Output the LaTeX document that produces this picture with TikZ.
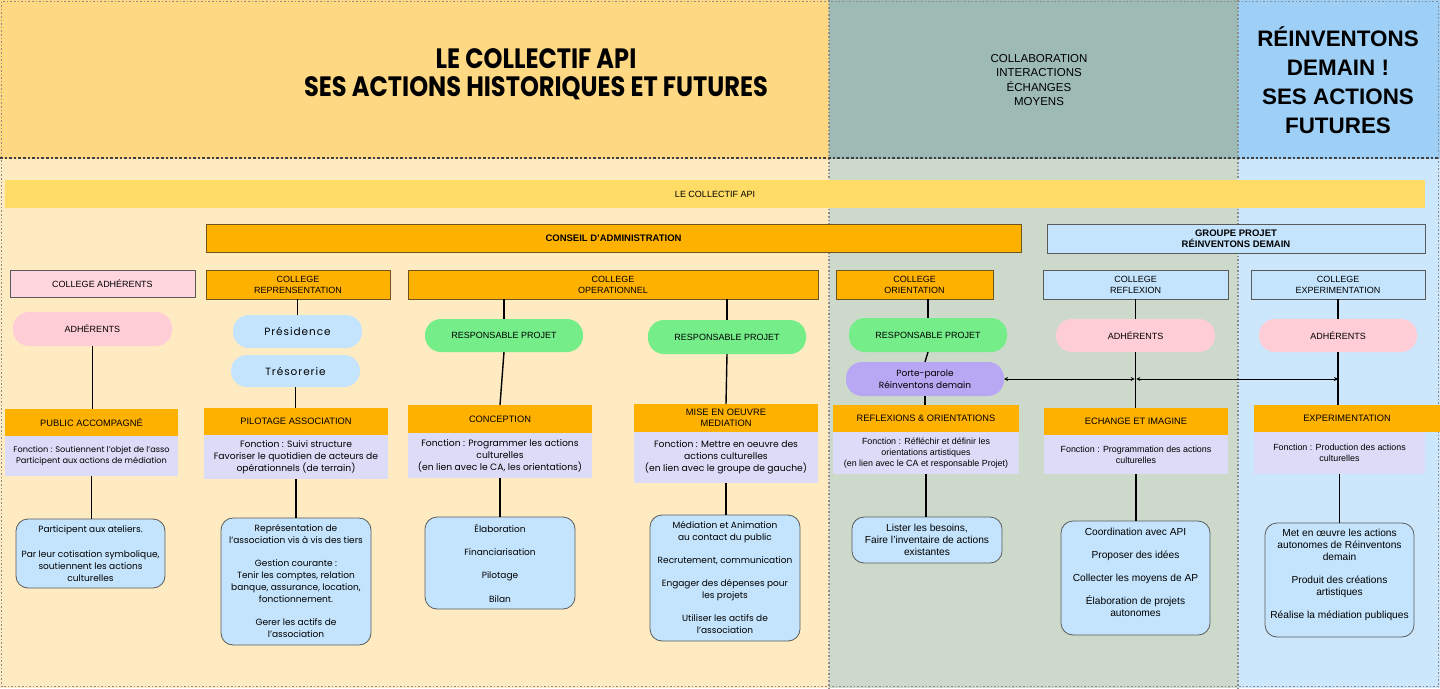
\documentclass[tikz,border=0pt]{standalone}
\usepackage{fontspec}
\setmainfont{Liberation Sans}
\newfontfamily\pop{Poppins}
\newfontfamily\popls[LetterSpace=9]{Poppins}
\newfontfamily\ttl[FakeStretch=0.86]{Poppins}
\usetikzlibrary{arrows.meta}
\definecolor{hdrL}{HTML}{FED883}
\definecolor{hdrM}{HTML}{9EBAB5}
\definecolor{hdrR}{HTML}{9DCFF7}
\definecolor{bodL}{HTML}{FFEBC1}
\definecolor{bodM}{HTML}{CCD9CB}
\definecolor{bodR}{HTML}{CCE7FB}
\definecolor{bandY}{HTML}{FFDC66}
\definecolor{orng}{HTML}{FFB100}
\definecolor{lblue}{HTML}{C4E4FD}
\definecolor{pinkC}{HTML}{FFD6DE}
\definecolor{pinkP}{HTML}{FFCDD6}
\definecolor{greenP}{HTML}{75EE8A}
\definecolor{purpP}{HTML}{B8A8F3}
\definecolor{lav}{HTML}{DCDCF8}
\definecolor{bordc}{HTML}{5A5A5A}
\definecolor{bordo}{HTML}{6E5520}
\definecolor{dotc}{HTML}{8C8C8C}
\begin{document}
\begin{tikzpicture}[x=1pt,y=-1pt,
  every node/.style={inner sep=1pt,outer sep=0pt,align=center,text=black},
  sz/.style 2 args={minimum width=#1pt,minimum height=#2pt},
  rob/.style={font=\fontsize{9}{11}\selectfont},
  robh/.style={font=\fontsize{9.3}{11}\selectfont},
  robb/.style={font=\fontsize{9.5}{11}\selectfont\bfseries},
  popf/.style={font=\pop\fontsize{9.2}{12}\selectfont},
  robf/.style={font=\fontsize{8.9}{11}\selectfont},
  popd/.style={font=\pop\fontsize{9}{12}\selectfont},
  popp/.style={font=\popls\fontsize{10.5}{12}\selectfont},
  robd/.style={font=\fontsize{10.2}{12}\selectfont},
  colo/.style={fill=orng,draw=bordo,line width=0.8pt},
  colb/.style={fill=lblue,draw=bordc,line width=0.8pt},
  colp/.style={fill=pinkC,draw=bordc,line width=0.8pt},
  pill/.style={rounded corners=16pt},
  headbox/.style={fill=orng,robh},
  funcbox/.style={fill=lav},
  detbox/.style={fill=lblue,draw=bordc,line width=0.8pt,rounded corners=12pt},
  conn/.style={line width=1.4pt,black},
  arr/.style={line width=1pt,black,{Stealth[length=4pt,width=4pt]}-{Stealth[length=4pt,width=4pt]}},
  frame/.style={draw=dotc,line width=1.6pt,dotted}
]
\useasboundingbox (0,0) rectangle (1440,688);
% regions
\fill[hdrL] (0,0) rectangle (829,159);
\fill[hdrM] (829,0) rectangle (1238,159);
\fill[hdrR] (1238,0) rectangle (1440,159);
\fill[bodL] (0,159) rectangle (829,688);
\fill[bodM] (829,159) rectangle (1238,688);
\fill[bodR] (1238,159) rectangle (1440,688);
\draw[frame] (1.5,1.5) rectangle (1438.5,686.5);
\draw[frame] (829,0) -- (829,688);
\draw[frame] (1238,0) -- (1238,688);
\draw[draw=black!75,line width=2.6pt,dotted] (0,158) -- (1440,158);
% header texts
\node[font=\ttl\bfseries\fontsize{28}{28}\selectfont] (title) at (536,74) {LE COLLECTIF API\\SES ACTIONS HISTORIQUES ET FUTURES};
\node[font=\fontsize{11.5}{14.5}\selectfont] (mid) at (1039,80) {COLLABORATION\\INTERACTIONS\\ÉCHANGES\\MOYENS};
\node[font=\bfseries\fontsize{22.4}{29}\selectfont] (rtitle) at (1338,80.5) {RÉINVENTONS\\DEMAIN !\\SES ACTIONS\\FUTURES};
% band
\node[fill=bandY,sz={1420}{28},rob] (band) at (715,194) {LE COLLECTIF API};
\node[colo,sz={815}{28},robb] (ca) at (613.5,238) {CONSEIL D’ADMINISTRATION};
\node[colb,sz={378}{29},robb] (gp) at (1236,238.5) {GROUPE PROJET\\RÉINVENTONS DEMAIN};
% colleges
\node[colp,sz={185}{27},rob] (cAdh) at (102.5,283.5) {COLLEGE ADHÉRENTS};
\node[colo,sz={184}{29},rob] (cRep) at (298,284.5) {COLLEGE\\REPRENSENTATION};
\node[colo,sz={410}{29},rob] (cOp) at (613,284.5) {COLLEGE\\OPERATIONNEL};
\node[colo,sz={157}{29},rob] (cOri) at (914.5,284.5) {COLLEGE\\ORIENTATION};
\node[colb,sz={185}{29},rob] (cRef) at (1135.5,284.5) {COLLEGE\\REFLEXION};
\node[colb,sz={174}{29},rob] (cExp) at (1338,284.5) {COLLEGE\\EXPERIMENTATION};
% pills
\node[pill,fill=pinkP,sz={159}{34},rob] (pAdh) at (92.5,329) {ADHÉRENTS};
\node[pill,fill=lblue,sz={129}{33},popp] (pPres) at (297.5,331.5) {Présidence};
\node[pill,fill=lblue,sz={129}{32},popp] (pTres) at (295.5,371) {Trésorerie};
\node[pill,fill=greenP,sz={158}{33},rob] (pR1) at (504,335.5) {RESPONSABLE PROJET};
\node[pill,fill=greenP,sz={158}{34},rob] (pR2) at (727,337) {RESPONSABLE PROJET};
\node[pill,fill=greenP,sz={158}{34},rob] (pR3) at (928,335) {RESPONSABLE PROJET};
\node[pill,fill=purpP,sz={158}{34},popd] (pPP) at (925,379) {Porte-parole\\Réinventons demain};
\node[pill,fill=pinkP,sz={159}{33},rob] (pAdh2) at (1135.5,335.5) {ADHÉRENTS};
\node[pill,fill=pinkP,sz={158}{33},rob] (pAdh3) at (1338,335.5) {ADHÉRENTS};
% headings
\node[headbox,sz={173}{27}] (hPub) at (91.5,422.5) {PUBLIC ACCOMPAGNÉ};
\node[headbox,sz={184}{27}] (hPil) at (296,421.5) {PILOTAGE ASSOCIATION};
\node[headbox,sz={184}{28}] (hCon) at (500,419) {CONCEPTION};
\node[headbox,sz={184}{28},font=\fontsize{9.3}{10.5}\selectfont] (hMis) at (726,418) {MISE EN OEUVRE\\MEDIATION};
\node[headbox,sz={186}{27}] (hRef) at (926,418.5) {REFLEXIONS \& ORIENTATIONS};
\node[headbox,sz={184}{27}] (hEch) at (1136,421.5) {ECHANGE ET IMAGINE};
\node[headbox,sz={186}{27}] (hExp) at (1347,418.5) {EXPERIMENTATION};
% function boxes
\node[funcbox,sz={173}{40},font=\pop\fontsize{8.2}{11}\selectfont] (fPub) at (91.5,456) {Fonction : Soutiennent l’objet de l’asso\\Participent aux actions de médiation};
\node[funcbox,sz={184}{44},popf] (fPil) at (296,457) {Fonction : Suivi structure\\Favoriser le quotidien de acteurs de\\opérationnels (de terrain)};
\node[funcbox,sz={184}{45},popf] (fCon) at (500,455.5) {Fonction : Programmer les actions\\culturelles\\(en lien avec le CA, les orientations)};
\node[funcbox,sz={184}{51},popf] (fMis) at (726,457.5) {Fonction : Mettre en oeuvre des\\actions culturelles\\(en lien avec le groupe de gauche)};
\node[funcbox,sz={186}{42},robf] (fRef) at (926,453) {Fonction : Réfléchir et définir les\\orientations artistiques\\(en lien avec le CA et responsable Projet)};
\node[funcbox,sz={184}{39},robf] (fEch) at (1136,454.5) {Fonction : Programmation des actions\\culturelles};
\node[funcbox,sz={171}{42},robf] (fExp) at (1339.5,453) {Fonction : Production des actions\\culturelles};
% detail boxes
\node[detbox,sz={149}{69},popd] (dPub) at (90.5,553.5) {Participent aux ateliers.\\[13pt]Par leur cotisation symbolique,\\soutiennent les actions\\culturelles};
\node[detbox,sz={150}{127},popd] (dPil) at (296,581.5) {Représentation de\\l’association vis à vis des tiers\\[11pt]Gestion courante :\\Tenir les comptes, relation\\banque, assurance, location,\\fonctionnement.\\[11pt]Gerer les actifs de\\l’association};
\node[detbox,sz={150}{92},popd] (dCon) at (500,563) {Élaboration\\[11.3pt]Financiarisation\\[11.3pt]Pilotage\\[11.3pt]Bilan};
\node[detbox,sz={150}{126},popd] (dMis) at (725,578) {Médiation et Animation\\au contact du public\\[11pt]Recrutement, communication\\[11pt]Engager des dépenses pour\\les projets\\[11pt]Utiliser les actifs de\\l’association};
\node[detbox,sz={150}{46},robd] (dRef) at (927,540) {Lister les besoins,\\Faire l’inventaire de actions\\existantes};
\node[detbox,sz={149}{114},robd] (dEch) at (1135.5,578) {Coordination avec API\\[11pt]Proposer des idées\\[11pt]Collecter les moyens de AP\\[11pt]Élaboration de projets\\autonomes\\};
\node[detbox,sz={149}{114},robd] (dExp) at (1339.5,580) {Met en œuvre les actions\\autonomes de Réinventons\\demain\\[11pt]Produit des créations\\artistiques\\[11pt]Réalise la médiation publiques\\};
% connectors
\draw[conn] (pAdh.south) -- (pAdh.south |- hPub.north);
\draw[conn] (fPub.south) -- (fPub.south |- dPub.north);
\draw[conn] (pPres.north |- cRep.south) -- (pPres.north);
\draw[conn] (pTres.south) -- (pTres.south |- hPil.north);
\draw[conn] (fPil.south) -- (fPil.south |- dPil.north);
\draw[conn] (pR1.north |- cOp.south) -- (pR1.north);
\draw[conn] (pR1.south) -- (hCon.north);
\draw[conn] (fCon.south) -- (fCon.south |- dCon.north);
\draw[conn] (pR2.north |- cOp.south) -- (pR2.north);
\draw[conn] (pR2.south) -- (hMis.north);
\draw[conn] (fMis.south) -- (fMis.south |- dMis.north);
\draw[conn] (pR3.north |- cOri.south) -- (pR3.north);
\draw[conn] (pR3.south) -- (pPP.north);
\draw[conn] (pPP.south) -- (pPP.south |- hRef.north);
\draw[conn] (fRef.south) -- (fRef.south |- dRef.north);
\draw[conn] (pAdh2.north |- cRef.south) -- (pAdh2.north);
\draw[conn] (pAdh2.south) -- (pAdh2.south |- hEch.north);
\draw[conn] (fEch.south) -- (fEch.south |- dEch.north);
\draw[conn] (pAdh3.north |- cExp.south) -- (pAdh3.north);
\draw[conn] (pAdh3.south) -- (pAdh3.south |- hExp.north);
\draw[conn] (fExp.south) -- (fExp.south |- dExp.north);
\coordinate (j1) at (pAdh2.south |- pPP.east);
\coordinate (j2) at (pAdh3.south |- pPP.east);
\draw[arr] (pPP.east) -- ([xshift=-0.8pt]j1);
\draw[arr] ([xshift=0.8pt]j1) -- (j2);
\end{tikzpicture}
\end{document}
